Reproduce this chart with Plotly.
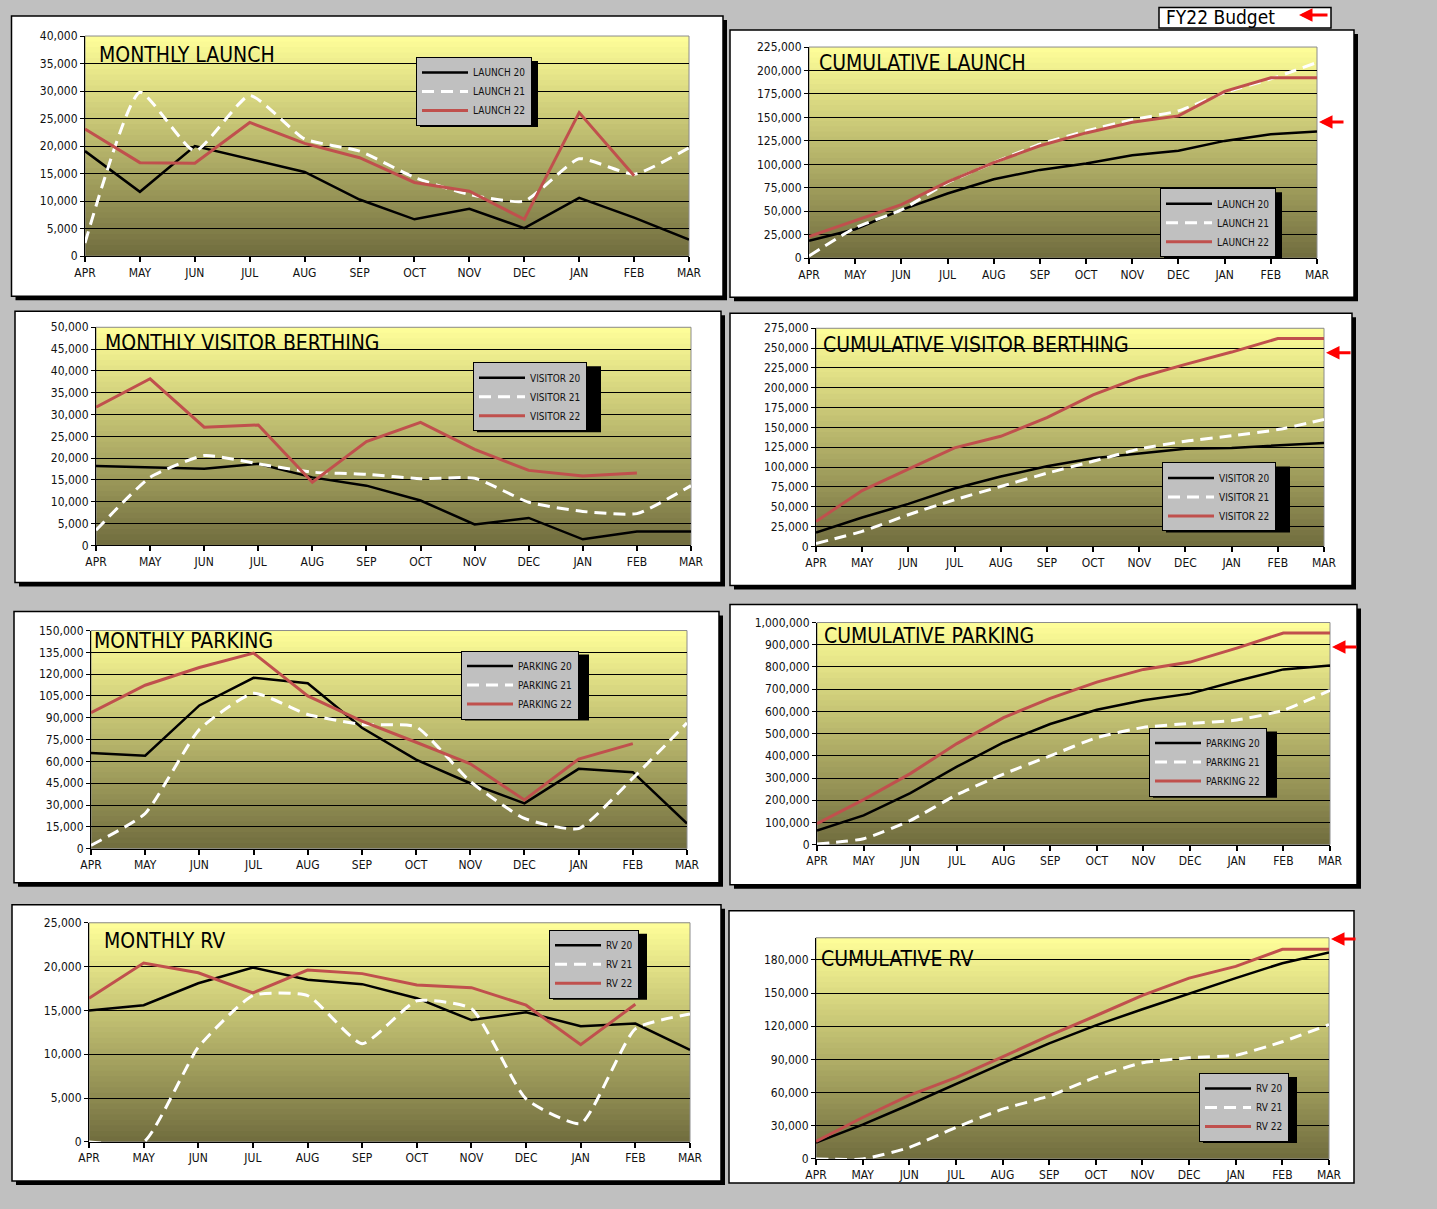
import plotly.graph_objects as go

# ---------------- DATA ----------------
months = ["APR", "MAY", "JUN", "JUL", "AUG", "SEP", "OCT", "NOV", "DEC", "JAN", "FEB", "MAR"]

launch_names = ["LAUNCH 20", "LAUNCH 21", "LAUNCH 22"]
launch_20 = [19100, 11700, 20000, 17700, 15300, 10300, 6700, 8600, 5100, 10600, 7000, 3000]
launch_21 = [2400, 29800, 19100, 29200, 21300, 19100, 14300, 11200, 10000, 17700, 14900, 19700]
launch_22 = [23100, 17000, 16900, 24300, 20500, 17900, 13400, 11800, 6700, 26100, 14600, None]
cum_launch_20 = [18500, 30900, 51500, 69000, 84100, 94100, 100800, 109600, 114400, 125000, 132100, 135000]
cum_launch_21 = [2400, 32400, 51400, 80500, 101800, 121500, 135500, 147500, 157000, 176500, 191000, 208600]
cum_launch_22 = [23100, 40100, 57000, 81300, 101800, 119800, 133500, 144800, 151600, 177700, 192300, 192300]

visitor_names = ["VISITOR 20", "VISITOR 21", "VISITOR 22"]
visitor_20 = [18200, 17900, 17600, 18700, 15600, 13700, 10300, 4800, 6300, 1400, 3200, 3200]
visitor_21 = [3500, 15600, 20600, 18700, 16800, 16300, 15300, 15400, 9900, 7800, 7300, 13700]
visitor_22 = [31700, 38200, 27100, 27600, 14500, 23800, 28200, 22000, 17200, 15900, 16600, None]
cum_visitor_20 = [17500, 36500, 53600, 73000, 88100, 101000, 111300, 116800, 123000, 124200, 127500, 130500]
cum_visitor_21 = [3800, 19000, 40000, 58800, 75600, 92300, 107300, 122800, 132600, 139500, 147300, 160000]
cum_visitor_22 = [31400, 70500, 97500, 124300, 138800, 162300, 191000, 213000, 229500, 245000, 262000, 262000]

parking_names = ["PARKING 20", "PARKING 21", "PARKING 22"]
parking_20 = [65800, 63900, 98500, 117500, 113800, 83100, 61200, 45000, 31200, 54900, 52600, 17300]
parking_21 = [2300, 24200, 82000, 106800, 92300, 85400, 83800, 46200, 20800, 13800, 48500, 86500]
parking_22 = [93500, 112400, 124600, 134500, 105000, 87700, 73200, 58400, 33500, 61600, 72200, None]
cum_parking_20 = [64000, 132000, 232000, 351000, 460000, 543000, 607000, 650000, 680000, 737000, 789000, 807000]
cum_parking_21 = [3000, 27000, 109000, 225000, 318000, 400000, 482000, 528000, 546000, 561000, 605000, 695000]
cum_parking_22 = [95000, 203000, 320000, 455000, 572000, 659000, 732000, 789000, 822000, 885000, 953000, 953000]

rv_names = ["RV 20", "RV 21", "RV 22"]
rv_20 = [15000, 15600, 18100, 19900, 18500, 18000, 16400, 13900, 14800, 13200, 13500, 10500]
rv_21 = [0, 0, 10800, 16700, 16700, 11200, 16100, 15200, 4900, 2100, 12900, 14600]
rv_22 = [16400, 20400, 19300, 17000, 19600, 19200, 17900, 17600, 15600, 11100, 15700, None]
cum_rv_20 = [14900, 31000, 49000, 68000, 86500, 104500, 120800, 135400, 149800, 163500, 177000, 186800]
cum_rv_21 = [0, 0, 10400, 28500, 45000, 57000, 74000, 87000, 91500, 93800, 106000, 121500]
cum_rv_22 = [15800, 37500, 57500, 73500, 92300, 111600, 129500, 148000, 163500, 174100, 189600, 189600]

fy22_budget = {"launch": 145000, "visitor": 244000, "parking": 890000, "rv": 199000}

# ---------------- STYLE / LAYOUT ----------------
NARROW = "Liberation Sans Narrow, Arial Narrow, DejaVu Sans Condensed, Liberation Sans, Arial, sans-serif"
RED = "#C0504D"
PAGE = "#C0C0C0"
TOP_RGB = (255, 255, 153)
BOT_RGB = (112, 108, 62)

# mapping of target-image pixels to paper fractions (figure is shown inset in the frame)
OX, OY = 12.0, 7.0
SW, SH = 1413.0, 1194.0


def fx(px):
    return (px - OX) / SW


def fy(py):
    return 1 - (py - OY) / SH


charts = [
    dict(title="MONTHLY LAUNCH", names=launch_names, series=(launch_20, launch_21, launch_22),
         ymax=40000, dtick=5000, budget=None,
         plot=(86, 36, 690, 256), panel=(12.5, 16, 724, 296), legend=(417, 57), tpos=(98, 55), shadow=True),
    dict(title="CUMULATIVE LAUNCH", names=launch_names, series=(cum_launch_20, cum_launch_21, cum_launch_22),
         ymax=225000, dtick=25000, budget=fy22_budget["launch"],
         plot=(810, 47, 1318, 258), panel=(731, 30, 1355, 297), legend=(1161, 188), tpos=(818, 63), shadow=True),
    dict(title="MONTHLY VISITOR BERTHING", names=visitor_names, series=(visitor_20, visitor_21, visitor_22),
         ymax=50000, dtick=5000, budget=None,
         plot=(97, 327, 692, 545), panel=(16, 311, 722, 582), legend=(474, 362), tpos=(104, 343), shadow=True),
    dict(title="CUMULATIVE VISITOR BERTHING", names=visitor_names, series=(cum_visitor_20, cum_visitor_21, cum_visitor_22),
         ymax=275000, dtick=25000, budget=fy22_budget["visitor"],
         plot=(817, 328, 1325, 546), panel=(731, 313, 1353, 585), legend=(1163, 462), tpos=(822, 345), shadow=True),
    dict(title="MONTHLY PARKING", names=parking_names, series=(parking_20, parking_21, parking_22),
         ymax=150000, dtick=15000, budget=None,
         plot=(92, 630, 688, 848), panel=(15, 611, 720, 882), legend=(462, 650), tpos=(93, 640), shadow=True),
    dict(title="CUMULATIVE PARKING", names=parking_names, series=(cum_parking_20, cum_parking_21, cum_parking_22),
         ymax=1000000, dtick=100000, budget=fy22_budget["parking"],
         plot=(818, 622, 1331, 844), panel=(731, 604, 1358, 884), legend=(1150, 727), tpos=(823, 635), shadow=True),
    dict(title="MONTHLY RV", names=rv_names, series=(rv_20, rv_21, rv_22),
         ymax=25000, dtick=5000, budget=None,
         plot=(90, 922, 691, 1141), panel=(13, 904, 722, 1180), legend=(550, 929), tpos=(103, 940), shadow=True),
    dict(title="CUMULATIVE RV", names=rv_names, series=(cum_rv_20, cum_rv_21, cum_rv_22),
         ymax=200000, dtick=30000, budget=fy22_budget["rv"],
         plot=(817, 937, 1330, 1158), panel=(730, 910, 1355, 1182), legend=(1200, 1072), tpos=(820, 958), shadow=False),
]

LEG_FONT = 10
LEG_ITEMW = 46


def legend_size(names):
    # approximate rendered legend box size (px) for shadow placement
    longest = max(len(n) for n in names)
    w = LEG_ITEMW + 10 + longest * LEG_FONT * 0.6 + 8
    h = 66
    return w, h


fig = go.Figure()
shapes = []
annotations = []
layout = {}

N_STRIPS = 40

for i, c in enumerate(charts, start=1):
    xa = "x" if i == 1 else f"x{i}"
    ya = "y" if i == 1 else f"y{i}"
    xkey = "xaxis" if i == 1 else f"xaxis{i}"
    ykey = "yaxis" if i == 1 else f"yaxis{i}"
    lkey = "legend" if i == 1 else f"legend{i}"

    px0, py0, px1, py1 = c["plot"]
    layout[xkey] = dict(
        domain=[fx(px0), fx(px1)], anchor=ya, type="category", range=[0, 11],
        showgrid=False, zeroline=False, showline=True, linecolor="#000", linewidth=1,
        ticks="outside", ticklen=5, tickcolor="#000", tickwidth=1.5,
        tickfont=dict(family=NARROW, size=12, color="#111"), fixedrange=True,
    )
    layout[ykey] = dict(
        domain=[fy(py1), fy(py0)], anchor=xa, range=[0, c["ymax"]], dtick=c["dtick"], tick0=0,
        tickformat=",d", showgrid=True, gridcolor="#000", gridwidth=1, zeroline=False,
        showline=True, linecolor="#000", linewidth=1, ticks="outside", ticklen=4, tickcolor="#000",
        tickfont=dict(family=NARROW, size=12, color="#111"), fixedrange=True,
    )

    # panel (white box with shadow)
    a0, b0, a1, b1 = c["panel"]
    if c["shadow"]:
        shapes.append(dict(type="rect", xref="paper", yref="paper", layer="below",
                           x0=fx(a0 + 4), x1=fx(a1 + 4), y0=fy(b1 + 4), y1=fy(b0 + 4),
                           fillcolor="#000", line=dict(width=0)))
    shapes.append(dict(type="rect", xref="paper", yref="paper", layer="below",
                       x0=fx(a0), x1=fx(a1), y0=fy(b1), y1=fy(b0),
                       fillcolor="#FFFFFF", line=dict(color="#000", width=1.5)))

    # gradient plot background
    mid = tuple(round((BOT_RGB[j] + TOP_RGB[j]) / 2) for j in range(3))
    shapes.append(dict(type="rect", xref=f"{xa} domain", yref=f"{ya} domain", layer="below",
                       x0=0, x1=1, y0=0, y1=1, fillcolor=f"rgb{mid}", line=dict(width=0)))
    for k in range(N_STRIPS):
        t = (k + 0.5) / N_STRIPS  # 0 bottom -> 1 top
        col = tuple(round(BOT_RGB[j] + (TOP_RGB[j] - BOT_RGB[j]) * t) for j in range(3))
        shapes.append(dict(type="rect", xref=f"{xa} domain", yref=f"{ya} domain", layer="below",
                           x0=0, x1=1, y0=k / N_STRIPS, y1=min(1, (k + 1.6) / N_STRIPS),
                           fillcolor=f"rgb{col}", line=dict(width=0)))
    shapes.append(dict(type="rect", xref=f"{xa} domain", yref=f"{ya} domain", layer="below",
                       x0=0, x1=1, y0=0, y1=1, fillcolor="rgba(0,0,0,0)",
                       line=dict(color="#8C8C8C", width=1)))

    # traces
    s20, s21, s22 = c["series"]
    n20, n21, n22 = c["names"]
    fig.add_trace(go.Scatter(x=months, y=s20, name=n20, mode="lines", xaxis=xa, yaxis=ya, legend=lkey,
                             line=dict(color="#000000", width=2.5), hoverinfo="skip"))
    fig.add_trace(go.Scatter(x=months, y=s21, name=n21, mode="lines", xaxis=xa, yaxis=ya, legend=lkey,
                             line=dict(color="#FFFFFF", width=3, dash="12px,7px", shape="spline", smoothing=0.5),
                             hoverinfo="skip"))
    fig.add_trace(go.Scatter(x=months, y=s22, name=n22, mode="lines", xaxis=xa, yaxis=ya, legend=lkey,
                             line=dict(color=RED, width=3), hoverinfo="skip"))

    # legend with shadow
    l0, m0 = c["legend"]
    lw, lh = legend_size(c["names"])
    layout[lkey] = dict(x=fx(l0), y=fy(m0), xanchor="left", yanchor="top", bgcolor="#C0C0C0",
                        bordercolor="#000", borderwidth=1, itemwidth=LEG_ITEMW, tracegroupgap=0,
                        font=dict(family=NARROW, size=LEG_FONT, color="#111"))
    shapes.append(dict(type="rect", xref="paper", yref="paper", layer="above",
                       x0=fx(l0 + 4), x1=fx(l0 + lw + 4), y0=fy(m0 + lh + 4), y1=fy(m0 + 4),
                       fillcolor="#000", line=dict(width=0)))

    # title
    tx, ty = c["tpos"]
    annotations.append(dict(text=c["title"], xref="paper", yref="paper", x=fx(tx), y=fy(ty),
                            xanchor="left", yanchor="middle", showarrow=False,
                            font=dict(family=NARROW, size=21, color="#000")))

    # FY22 budget arrow
    if c["budget"] is not None:
        annotations.append(dict(text="", xref=xa, yref=ya, x="MAR", y=c["budget"], ax=28, ay=0,
                                showarrow=True, arrowhead=2, arrowsize=0.9, arrowwidth=3,
                                arrowcolor="#FF0000", standoff=2))

# FY22 Budget key box
shapes.append(dict(type="rect", xref="paper", yref="paper", layer="below",
                   x0=fx(1160), x1=fx(1332), y0=fy(28), y1=fy(7.5),
                   fillcolor="#FFFFFF", line=dict(color="#000", width=1.5)))
annotations.append(dict(text="FY22 Budget", xref="paper", yref="paper", x=fx(1165), y=fy(17),
                        xanchor="left", yanchor="middle", showarrow=False,
                        font=dict(family=NARROW, size=19, color="#000")))
annotations.append(dict(text="", xref="paper", yref="paper", x=fx(1300), y=fy(15), ax=30, ay=0,
                        showarrow=True, arrowhead=2, arrowsize=0.9, arrowwidth=3, arrowcolor="#FF0000"))

fig.update_layout(
    autosize=True, margin=dict(l=0, r=0, t=0, b=0, pad=0),
    paper_bgcolor=PAGE, plot_bgcolor="rgba(0,0,0,0)",
    shapes=shapes, annotations=annotations, hovermode=False,
    font=dict(family=NARROW, color="#000"),
    **layout,
)

fig.write_html(
    "out.html",
    config={"displayModeBar": False, "responsive": True},
    default_width="100%", default_height="100%",
    post_script=(
        "document.documentElement.style.margin='0';document.body.style.margin='0';"
        "document.documentElement.style.overflow='hidden';"
        "var gd=document.getElementById('{plot_id}');Plotly.Plots.resize(gd);"
    ),
)
